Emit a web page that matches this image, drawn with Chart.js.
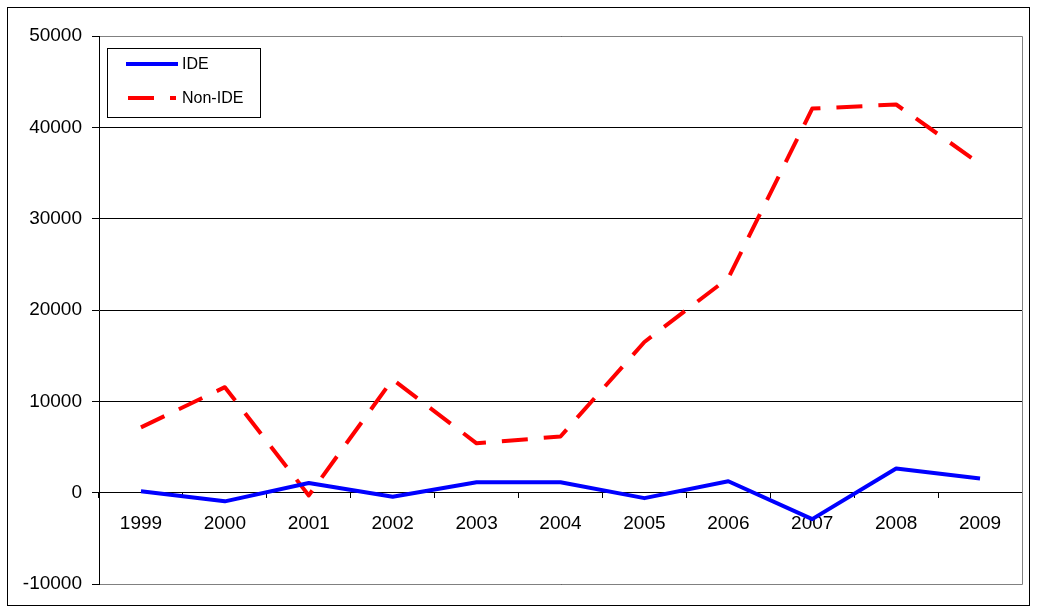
<!DOCTYPE html>
<html>
<head>
<meta charset="utf-8">
<title>IDE vs Non-IDE</title>
<script src="https://cdn.jsdelivr.net/npm/chart.js@4/dist/chart.umd.min.js"></script>
<style>
  html, body { margin: 0; padding: 0; background: #fff; }
  canvas { display: block; }
</style>
</head>
<body>
<canvas id="chart" width="1039" height="614"></canvas>
<script>
/* -----------------------------
   DATA
----------------------------- */
const years = ["1999", "2000", "2001", "2002", "2003", "2004", "2005", "2006", "2007", "2008", "2009"];
const ideValues = [150, -950, 1050, -450, 1150, 1150, -600, 1250, -2900, 2650, 1550];
const nonIdeValues = [7150, 11550, -300, 12400, 5400, 6150, 16500, 23500, 42050, 42500, 36000];
const yMin = -10000;
const yMax = 50000;
const yStep = 10000;

const FONT = "'Liberation Sans', Arial, sans-serif";

// same rounding Chart.js uses for 1px lines
const crisp = p => Math.round(p - 0.5) + 0.5;

/* -------- frame: outer border + grey plot border -------- */
const framePlugin = {
  id: "frame",
  beforeDraw(chart) {
    const ctx = chart.ctx;
    ctx.save();
    ctx.fillStyle = "#fff";
    ctx.fillRect(0, 0, chart.width, chart.height);
    ctx.strokeStyle = "#000";
    ctx.lineWidth = 1;
    ctx.strokeRect(7.5, 7.5, 1022, 598);
    ctx.restore();
  },
  beforeDatasetsDraw(chart) {
    const { left, right } = chart.chartArea;
    const y = chart.scales.y;
    const top = crisp(y.getPixelForValue(yMax));
    const bottom = crisp(y.getPixelForValue(yMin));
    const r = crisp(right);
    const ctx = chart.ctx;
    ctx.save();
    ctx.strokeStyle = "#808080";
    ctx.lineWidth = 1;
    ctx.beginPath();
    ctx.moveTo(left + 1, top);
    ctx.lineTo(r, top);
    ctx.lineTo(r, bottom);
    ctx.lineTo(left + 1, bottom);
    ctx.stroke();
    ctx.restore();
  }
};

/* -------- legend box inside the plot -------- */
const boxLegend = {
  id: "boxLegend",
  afterDraw(chart) {
    const ctx = chart.ctx;
    ctx.save();
    ctx.fillStyle = "#fff";
    ctx.fillRect(107, 48, 153, 69);
    ctx.strokeStyle = "#000";
    ctx.lineWidth = 1;
    ctx.strokeRect(107.5, 48.5, 153, 69);

    chart.data.datasets.forEach((ds, i) => {
      const y = 64 + i * 34;
      ctx.beginPath();
      ctx.strokeStyle = ds.borderColor;
      ctx.lineWidth = ds.borderWidth;
      ctx.lineCap = "butt";
      ctx.setLineDash(ds.borderDash || []);
      ctx.moveTo(ds.borderDash ? 128 : 126, y);
      ctx.lineTo(ds.borderDash ? 176 : 178, y);
      ctx.stroke();
      ctx.setLineDash([]);

      ctx.fillStyle = "#000";
      ctx.font = "16px " + FONT;
      ctx.textBaseline = "middle";
      ctx.textAlign = "left";
      ctx.fillText(ds.label, 182, y + 1);
    });
    ctx.restore();
  }
};

new Chart(document.getElementById("chart"), {
  type: "line",
  data: {
    labels: years,
    datasets: [
      {
        label: "IDE",
        data: ideValues,
        borderColor: "#0000ff",
        borderWidth: 4,
        pointRadius: 0,
        borderJoinStyle: "round",
        tension: 0
      },
      {
        label: "Non-IDE",
        data: nonIdeValues,
        borderColor: "#ff0000",
        borderWidth: 4,
        borderDash: [26, 16],
        pointRadius: 0,
        borderJoinStyle: "round",
        tension: 0
      }
    ]
  },
  options: {
    responsive: false,
    animation: false,
    devicePixelRatio: 1,
    layout: { padding: { left: 0, top: 36, right: 17, bottom: 30 } },
    plugins: {
      legend: { display: false },
      tooltip: { enabled: false }
    },
    scales: {
      y: {
        min: yMin,
        max: yMax,
        afterFit: s => { s.width = 99; },
        ticks: {
          stepSize: yStep,
          color: "#000",
          padding: 10,
          font: { family: FONT, size: 19 },
          callback: v => String(v)
        },
        grid: { color: "#000", lineWidth: 1, tickLength: 7 },
        border: { color: "#000", width: 1 }
      },
      x: {
        position: { y: 0 },
        offset: true,
        afterFit: s => { s.height = 0; },
        ticks: {
          color: "#000",
          padding: 15,
          maxRotation: 0,
          autoSkip: false,
          font: { family: FONT, size: 19 }
        },
        grid: { display: true, drawOnChartArea: false, drawTicks: true, tickLength: 5, color: "#000", offset: true },
        border: { color: "#000", width: 1 }
      }
    }
  },
  plugins: [framePlugin, boxLegend]
});
</script>
</body>
</html>
